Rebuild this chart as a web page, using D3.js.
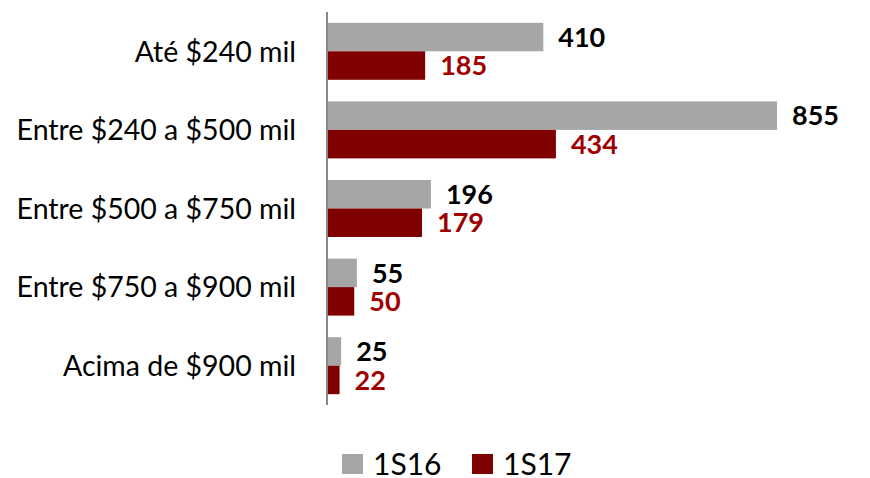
<!DOCTYPE html>
<html>
<head>
<meta charset="utf-8">
<script src="https://d3js.org/d3.v7.min.js"></script>
<style>
  html, body { margin: 0; padding: 0; background: #fff; }
  svg text { font-family: Lato, "Open Sans", sans-serif; }
</style>
</head>
<body>
<svg id="chart" width="870" height="478"></svg>
<script>
const categories = ["Até $240 mil", "Entre $240 a $500 mil", "Entre $500 a $750 mil", "Entre $750 a $900 mil", "Acima de $900 mil"];
const seriesNames = ["1S16", "1S17"];
const values1S16 = [410, 855, 196, 55, 25];
const values1S17 = [185, 434, 179, 50, 22];

const barColors = { "1S16": "#a6a6a6", "1S17": "#800000" };
const labelColors = { "1S16": "#000000", "1S17": "#a00000" };

const svg = d3.select("#chart");
const x0 = 328;

const x = d3.scaleLinear().domain([0, 855]).range([x0, 777]);
const y = d3.scaleBand().domain(categories).range([12, 405]).paddingInner(0.275).paddingOuter(0.1375);
const ySub = d3.scaleBand().domain(seriesNames).range([0, y.bandwidth()]);

const rows = categories.map((c, i) => ({ cat: c, vals: [
  { s: "1S16", v: values1S16[i] },
  { s: "1S17", v: values1S17[i] }
]}));

const g = svg.selectAll("g.cat").data(rows).join("g")
  .attr("class", "cat")
  .attr("transform", d => `translate(0,${y(d.cat)})`);

g.selectAll("rect").data(d => d.vals).join("rect")
  .attr("x", x(0))
  .attr("y", d => ySub(d.s))
  .attr("width", d => x(d.v) - x(0))
  .attr("height", ySub.bandwidth())
  .attr("fill", d => barColors[d.s]);

g.selectAll("text.val").data(d => d.vals).join("text")
  .attr("class", "val")
  .attr("x", d => x(d.v) + 15)
  .attr("y", d => ySub(d.s) + ySub.bandwidth() / 2)
  .attr("dy", "0.36em")
  .attr("font-size", 27)
  .attr("font-weight", "bold")
  .attr("fill", d => labelColors[d.s])
  .text(d => d.v);

// category labels
svg.selectAll("text.cat").data(categories).join("text")
  .attr("class", "cat")
  .attr("x", 296)
  .attr("y", d => y(d) + y.bandwidth() / 2)
  .attr("dy", "0.36em")
  .attr("text-anchor", "end")
  .attr("font-size", 28.5)
  .attr("fill", "#000")
  .text(d => d);

// axis line
svg.append("line")
  .attr("x1", x0 - 1).attr("x2", x0 - 1)
  .attr("y1", 12).attr("y2", 405)
  .attr("stroke", "#888").attr("stroke-width", 2);

// legend
const legendX = [342, 472];
const lg = svg.selectAll("g.leg").data(seriesNames).join("g")
  .attr("class", "leg")
  .attr("transform", (d, i) => `translate(${legendX[i]},454)`);
lg.append("rect").attr("width", 21).attr("height", 20).attr("fill", d => barColors[d]);
lg.append("text").attr("x", 31).attr("y", 10).attr("dy", "0.36em")
  .attr("font-size", 30).attr("fill", "#000").text(d => d);
</script>
</body>
</html>
